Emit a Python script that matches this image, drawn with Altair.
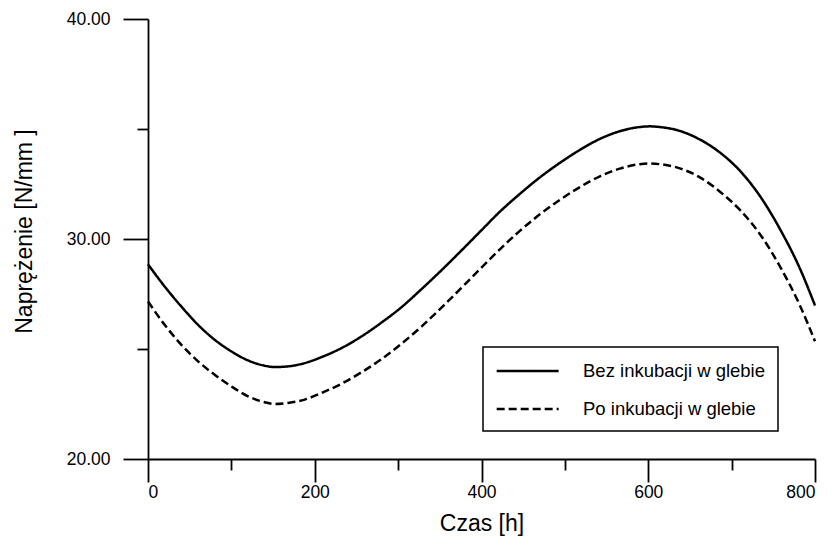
import altair as alt
import pandas as pd

czas = [0, 20, 40, 60, 80, 100, 120, 140, 152, 168,
        188, 208, 232, 256, 280, 304, 328, 352, 376, 400,
        422, 446, 470, 494, 518, 542, 566, 590, 602, 614,
        638, 662, 686, 710, 734, 758, 782, 800]
bez = [28.85, 27.84, 26.93, 26.10, 25.42, 24.89, 24.48, 24.24, 24.18, 24.21,
       24.36, 24.63, 25.04, 25.57, 26.20, 26.90, 27.72, 28.58, 29.48, 30.40,
       31.24, 32.05, 32.80, 33.46, 34.05, 34.55, 34.90, 35.09, 35.12, 35.09,
       34.91, 34.52, 33.93, 33.10, 31.95, 30.45, 28.65, 26.98]
po = [27.16, 26.10, 25.19, 24.44, 23.83, 23.30, 22.85, 22.58, 22.50, 22.55,
      22.70, 23.00, 23.42, 23.94, 24.54, 25.24, 26.02, 26.88, 27.78, 28.70,
      29.53, 30.37, 31.12, 31.78, 32.36, 32.85, 33.20, 33.40, 33.43, 33.40,
      33.21, 32.80, 32.15, 31.32, 30.22, 28.75, 26.97, 25.35]
series = ["Bez inkubacji w glebie", "Po inkubacji w glebie"]
x_ticks = [0, 100, 200, 300, 400, 500, 600, 700, 800]
y_ticks = [20, 25, 30, 35, 40]

rows = []
for name, vals in zip(series, [bez, po]):
    for xv, yv in zip(czas, vals):
        rows.append({"czas": xv, "val": yv, "seria": name})
df = pd.DataFrame(rows)

FONT = "Liberation Sans"

chart = alt.Chart(df).mark_line(
    color="black", strokeWidth=2.5, interpolate="monotone"
).encode(
    x=alt.X("czas:Q",
            scale=alt.Scale(domain=[0, 800], nice=False, zero=False),
            axis=alt.Axis(
                title="Czas [h]",
                values=x_ticks,
                labelExpr="datum.value % 200 === 0 ? datum.label : ''",
                tickSize={"condition": {"test": "datum.value % 200 === 0", "value": 23}, "value": 11},
                labelPadding=1,
                titlePadding=12,
            )),
    y=alt.Y("val:Q",
            scale=alt.Scale(domain=[20, 40], nice=False, zero=False),
            axis=alt.Axis(
                title="Naprężenie [N/mm  ]",
                values=y_ticks,
                labelExpr="datum.value % 10 === 0 ? format(datum.value, '.2f') : ''",
                tickSize={"condition": {"test": "datum.value % 10 === 0", "value": 25}, "value": 11},
                labelPadding=13,
                titlePadding=30,
                titleY=212,
            )),
    strokeDash=alt.StrokeDash(
        "seria:N",
        scale=alt.Scale(domain=series, range=[[1, 0], [8, 4]]),
        legend=alt.Legend(
            orient="none", legendX=335, legendY=328, title=None,
            symbolType="M-1,0H5", symbolSize=427, symbolStrokeWidth=2.5,
            symbolStrokeColor="black",
            labelFont=FONT, labelFontSize=18.5, labelColor="black",
            labelOffset=64, labelLimit=0, padding=12, rowPadding=16,
            strokeColor="black", fillColor="white",
        ),
    ),
).properties(
    width=667, height=440,
    autosize=alt.AutoSizeParams(type="none"),
    padding={"left": 140, "top": 11, "right": 8, "bottom": 80},
).configure_view(stroke=None).configure_axis(
    domainColor="black", domainWidth=1.8, tickColor="black", tickWidth=1.8,
    grid=False, labelFont=FONT, labelFontSize=17.5, labelColor="black",
    titleFont=FONT, titleFontSize=23, titleFontWeight="normal", titleColor="black",
).configure_legend(strokeWidth=1.5)

chart.save("out.html", embed_options={"renderer": "svg", "actions": False})
